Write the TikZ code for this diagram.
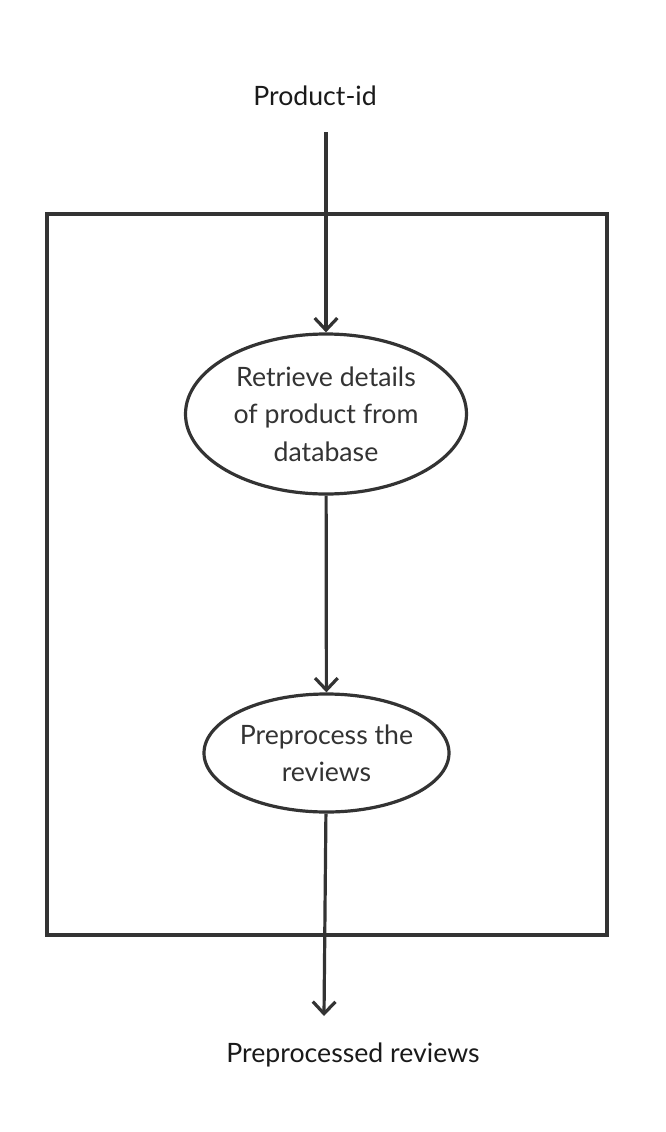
\documentclass[tikz,border=0pt]{standalone}
\usepackage{fontspec}
\setmainfont{Lato}
\usetikzlibrary{arrows.meta,shapes.geometric}
\definecolor{ink}{HTML}{333333}
\definecolor{labelink}{HTML}{1A1A1A}

\begin{document}
\begin{tikzpicture}[x=0.75pt, y=-0.75pt,
  flow/.style={draw=ink, line width=2.4pt, -{Straight Barb[length=9pt, width=17pt, line width=2.4pt]}},
  stage/.style={draw=ink, line width=2.4pt, ellipse, inner sep=0pt, align=center, text=ink,
    font=\fontsize{20}{28}\selectfont},
  iolabel/.style={align=center, text=labelink, font=\fontsize{20}{24}\selectfont}]
\useasboundingbox (0,0) rectangle (665,1132);

\draw [ink, line width=2.4pt] (47,214) rectangle (607,935);

\node (pid) [iolabel] at (315,96) {Product-id};
\coordinate (in) at (326,132);
\node (ret) [stage, minimum width=210.75pt, minimum height=120pt] at (326,414) {Retrieve details\\of product from\\database};
\node (prep) [stage, minimum width=180.75pt, minimum height=88.5pt] at (326.5,753) {Preprocess the\\reviews};
\coordinate (out) at (324,1016);
\node (res) [iolabel] at (353,1055) {Preprocessed reviews};

\draw [flow] (in) -- (ret);
\draw [flow] (ret) -- (prep);
\draw [flow] (prep) -- (out);
\end{tikzpicture}
\end{document}
